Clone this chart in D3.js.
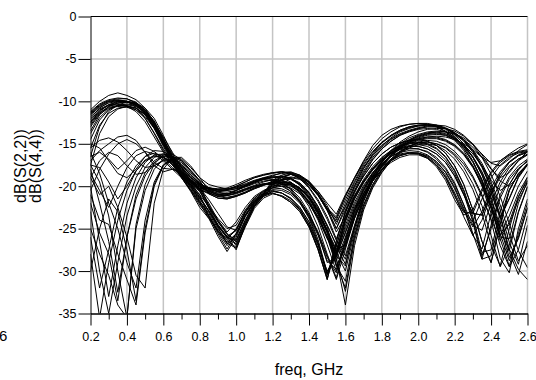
<!DOCTYPE html>
<html>
<head>
<meta charset="utf-8">
<script src="https://cdn.jsdelivr.net/npm/d3@7"></script>
<style>
  body { margin: 0; background: #fff; }
  svg { display: block; font-family: "Liberation Sans", Arial, sans-serif; }
</style>
</head>
<body>
<svg width="536" height="380"></svg>
<script>
// sweep points, GHz
const freq = [0.20,0.25,0.30,0.35,0.40,0.45,0.50,0.55,0.60,0.65,0.70,0.75,0.80,0.85,0.90,0.95,1.00,
  1.05,1.10,1.15,1.20,1.25,1.30,1.35,1.40,1.45,1.50,1.55,1.60,1.65,1.70,1.75,1.80,1.85,1.90,1.95,
  2.00,2.05,2.10,2.15,2.20,2.25,2.30,2.35,2.40,2.45,2.50,2.55,2.60];

const xTicks = [0.2,0.4,0.6,0.8,1.0,1.2,1.4,1.6,1.8,2.0,2.2,2.4,2.6];
const xMinor = [0.3,0.5,0.7,0.9,1.1,1.3,1.5,1.7,1.9,2.1,2.3,2.5];
const yTicks = [0,-5,-10,-15,-20,-25,-30,-35];

// dB(S(2,2)) monte-carlo traces
const s22 = [
  [-11.2,-10.3,-9.8,-9.6,-9.7,-10.2,-11.2,-12.8,-14.9,-17.0,-18.8,-20.2,-21.8,-23.2,-25.0,-26.3,-25.0,-23.0,-21.6,-20.8,-19.6,-19.0,-18.6,-18.8,-19.5,-20.6,-22.0,-23.3,-21.0,-19.0,-17.0,-15.2,-14.0,-13.3,-12.9,-12.7,-12.6,-12.6,-12.8,-13.2,-13.9,-15.0,-16.6,-18.7,-21.6,-25.1,-27.6,-23.1,-20.1],
  [-12.0,-10.8,-10.1,-9.9,-10.0,-10.2,-11.0,-12.3,-14.4,-16.6,-18.5,-19.6,-20.5,-20.6,-21.0,-21.1,-20.8,-20.4,-20.0,-19.7,-19.6,-19.5,-19.8,-20.6,-21.9,-23.6,-25.9,-28.1,-25.4,-22.5,-20.3,-18.5,-17.1,-16.0,-15.1,-14.5,-14.0,-13.7,-13.6,-13.8,-14.3,-15.2,-16.5,-18.3,-20.7,-23.7,-21.4,-18.9,-17.4],
  [-11.0,-10.0,-9.3,-9.0,-9.3,-9.8,-10.8,-12.5,-14.7,-16.9,-18.7,-19.8,-21.0,-23.6,-25.6,-27.4,-25.6,-23.4,-21.8,-20.9,-19.3,-18.7,-18.4,-18.7,-19.4,-20.6,-22.3,-24.5,-22.0,-19.6,-17.7,-16.3,-15.2,-14.4,-13.8,-13.4,-13.1,-12.9,-12.8,-12.9,-13.3,-14.0,-15.1,-16.6,-18.6,-21.2,-24.4,-27.6,-29.6],
  [-13.5,-11.6,-10.6,-10.2,-10.0,-10.2,-10.8,-12.0,-14.0,-16.2,-18.2,-19.5,-20.3,-20.2,-20.4,-20.5,-20.3,-20.0,-19.6,-19.2,-19.0,-18.8,-19.0,-19.8,-21.1,-22.9,-25.2,-27.8,-30.0,-25.4,-21.8,-19.4,-17.6,-16.3,-15.3,-14.6,-14.1,-13.8,-13.6,-13.6,-13.8,-14.3,-15.1,-16.2,-17.3,-17.6,-16.8,-15.8,-15.1],
  [-14.5,-12.2,-11.0,-10.5,-10.3,-10.5,-11.3,-12.8,-14.9,-16.9,-18.4,-19.4,-20.0,-20.4,-20.6,-20.4,-20.0,-19.5,-19.0,-18.7,-18.5,-18.3,-18.4,-18.9,-19.8,-21.1,-22.8,-24.0,-21.6,-19.4,-17.5,-16.0,-14.9,-14.1,-13.5,-13.1,-12.9,-12.8,-12.9,-13.3,-14.1,-15.3,-17.0,-19.3,-22.4,-26.0,-26.2,-22.0,-19.4],
  [-11.5,-10.6,-10.0,-9.8,-10.0,-10.7,-12.0,-13.8,-15.8,-17.5,-19.0,-20.6,-22.5,-23.8,-25.2,-26.4,-27.2,-24.6,-22.4,-21.2,-20.6,-20.8,-21.4,-22.5,-24.2,-26.8,-30.4,-27.0,-23.6,-21.2,-19.4,-18.0,-16.9,-16.1,-15.6,-15.3,-15.3,-15.6,-16.2,-17.2,-18.8,-21.0,-23.2,-23.4,-20.8,-18.6,-17.2,-16.4,-16.0],
  [-12.5,-11.2,-10.4,-10.0,-10.0,-10.4,-11.2,-12.5,-14.2,-16.0,-17.8,-19.3,-20.4,-20.8,-21.2,-21.0,-20.5,-19.9,-19.4,-19.1,-19.0,-18.9,-19.1,-19.7,-20.8,-22.4,-24.8,-28.5,-34.0,-27.0,-22.8,-20.2,-18.4,-17.0,-16.0,-15.3,-14.8,-14.6,-14.7,-15.1,-15.9,-17.1,-18.8,-21.0,-24.0,-28.5,-30.2,-25.0,-21.5],
  [-16.5,-13.0,-11.2,-10.4,-10.1,-10.3,-11.0,-12.4,-14.4,-16.5,-18.3,-19.5,-20.6,-22.6,-24.0,-25.4,-24.2,-22.5,-21.2,-20.5,-20.0,-19.8,-20.0,-20.6,-21.7,-23.3,-25.4,-27.6,-26.8,-23.4,-20.9,-19.0,-17.5,-16.3,-15.4,-14.7,-14.2,-13.9,-13.8,-14.0,-14.6,-15.6,-17.1,-19.2,-22.0,-25.6,-28.8,-26.0,-22.6],
  [-11.8,-10.9,-10.4,-10.3,-10.5,-11.0,-12.0,-13.7,-15.6,-17.2,-18.6,-20.0,-21.7,-23.4,-25.2,-26.6,-25.6,-23.4,-21.9,-21.0,-20.4,-20.5,-21.0,-22.0,-23.6,-25.8,-28.8,-29.8,-26.2,-23.0,-20.8,-19.0,-17.7,-16.8,-16.2,-16.0,-16.1,-16.6,-17.5,-19.0,-21.2,-23.1,-23.2,-20.6,-18.5,-17.2,-16.4,-16.0,-15.8],
  [-12.8,-11.4,-10.6,-10.2,-10.1,-10.4,-11.3,-12.8,-14.9,-16.9,-18.6,-19.9,-21.2,-23.0,-24.8,-26.0,-27.5,-24.6,-22.4,-21.2,-20.8,-21.2,-21.9,-23.0,-24.8,-27.5,-31.0,-26.5,-23.0,-20.6,-18.8,-17.3,-16.2,-15.4,-14.9,-14.6,-14.5,-14.7,-15.2,-16.1,-17.6,-19.8,-22.8,-26.5,-29.0,-24.5,-20.5,-18.5,-17.4],
  [-13.0,-11.5,-10.8,-10.6,-10.7,-11.0,-11.8,-13.2,-15.1,-16.8,-18.4,-19.7,-21.0,-22.4,-23.8,-25.0,-24.6,-22.8,-21.4,-20.6,-20.0,-19.6,-19.6,-20.2,-21.2,-22.7,-24.6,-26.9,-28.6,-24.8,-21.6,-19.3,-17.6,-16.4,-15.5,-14.8,-14.3,-14.0,-13.9,-14.0,-14.4,-15.1,-16.2,-17.6,-19.3,-20.5,-19.8,-18.1,-16.9],
  [-11.3,-10.4,-9.9,-9.7,-9.7,-10.1,-11.0,-12.6,-14.8,-16.9,-18.8,-20.4,-22.0,-23.8,-25.9,-27.7,-26.0,-23.6,-22.0,-21.0,-19.5,-18.9,-18.6,-18.8,-19.5,-20.8,-22.6,-25.0,-22.8,-20.2,-18.2,-16.6,-15.4,-14.5,-13.9,-13.5,-13.2,-13.0,-13.0,-13.2,-13.7,-14.5,-15.8,-17.6,-20.2,-23.6,-27.8,-30.4,-26.5],
  [-15.5,-12.8,-11.4,-10.8,-10.6,-10.8,-11.5,-12.8,-14.5,-16.3,-17.9,-19.2,-20.1,-20.3,-20.6,-20.7,-20.5,-20.1,-19.7,-19.4,-19.3,-19.3,-19.6,-20.3,-21.5,-23.1,-25.2,-27.4,-27.0,-23.8,-21.2,-19.2,-17.7,-16.5,-15.6,-15.0,-14.6,-14.4,-14.4,-14.7,-15.3,-16.3,-17.8,-19.8,-22.6,-25.8,-24.5,-21.6,-19.6],
  [-12.2,-11.0,-10.5,-10.4,-10.6,-11.2,-12.4,-14.2,-16.0,-17.4,-18.6,-19.8,-21.3,-22.9,-24.5,-25.9,-26.8,-24.4,-22.3,-21.1,-20.2,-19.8,-19.8,-20.3,-21.3,-22.9,-25.2,-28.6,-32.4,-26.4,-22.5,-20.0,-18.3,-17.0,-16.1,-15.5,-15.1,-15.0,-15.2,-15.8,-16.8,-18.3,-20.4,-23.2,-26.9,-29.4,-25.0,-21.3,-19.0],
  [-11.6,-10.7,-10.2,-10.0,-10.0,-10.4,-11.4,-13.0,-15.1,-17.1,-19.0,-20.5,-22.2,-23.6,-25.3,-26.7,-27.3,-24.8,-22.6,-21.4,-20.9,-21.1,-21.7,-22.8,-24.6,-27.3,-30.8,-27.5,-24.0,-21.5,-19.6,-18.1,-17.0,-16.2,-15.7,-15.5,-15.6,-16.0,-16.8,-18.0,-19.8,-22.2,-24.6,-25.2,-22.0,-19.5,-17.8,-16.8,-16.3],
  [-13.8,-11.9,-10.9,-10.5,-10.4,-10.6,-11.3,-12.7,-14.7,-16.7,-18.4,-19.5,-20.4,-20.9,-21.4,-21.5,-21.2,-20.8,-20.3,-19.9,-19.4,-18.9,-18.6,-18.9,-19.6,-20.9,-22.6,-24.2,-22.4,-20.0,-17.9,-16.2,-14.9,-14.0,-13.4,-13.0,-12.8,-12.7,-12.8,-13.1,-13.7,-14.6,-15.9,-17.6,-19.8,-22.8,-26.6,-29.2,-24.6],
  [-12.4,-11.1,-10.4,-10.1,-10.0,-10.3,-11.1,-12.6,-14.7,-16.7,-18.6,-20.0,-21.4,-23.0,-24.7,-25.9,-25.2,-23.1,-21.7,-20.9,-20.5,-20.8,-21.5,-22.7,-24.5,-27.0,-30.0,-28.2,-24.2,-21.5,-19.5,-17.9,-16.7,-15.8,-15.2,-14.9,-14.8,-15.0,-15.5,-16.5,-18.1,-20.4,-23.6,-27.8,-27.5,-23.0,-19.8,-18.0,-17.0],
  [-17.5,-13.8,-11.8,-10.9,-10.6,-10.8,-11.6,-13.0,-14.8,-16.6,-18.1,-19.4,-20.3,-20.5,-20.8,-20.9,-20.7,-20.3,-20.0,-19.8,-19.8,-20.0,-20.6,-21.7,-23.3,-25.4,-28.2,-31.0,-27.4,-23.8,-21.3,-19.4,-18.0,-17.0,-16.4,-16.1,-16.1,-16.4,-17.1,-18.3,-20.1,-22.6,-25.8,-27.4,-23.2,-20.0,-18.2,-17.0,-16.3],
  [-11.4,-10.5,-10.0,-9.9,-10.0,-10.5,-11.5,-13.2,-15.3,-17.2,-19.0,-20.4,-21.9,-23.5,-25.4,-27.0,-25.8,-23.5,-21.9,-20.9,-19.8,-19.2,-19.1,-19.6,-20.7,-22.4,-24.6,-27.0,-29.2,-24.8,-21.3,-18.9,-17.1,-15.8,-14.8,-14.1,-13.6,-13.3,-13.2,-13.2,-13.5,-14.1,-15.0,-16.3,-17.9,-19.4,-20.0,-18.8,-17.3],
  [-12.6,-11.3,-10.7,-10.5,-10.5,-10.8,-11.6,-13.1,-15.1,-16.9,-18.8,-20.1,-21.5,-22.9,-24.6,-26.1,-26.4,-24.0,-22.1,-20.9,-19.9,-19.3,-19.0,-19.2,-19.9,-21.1,-22.8,-25.4,-23.6,-20.8,-18.6,-16.9,-15.6,-14.7,-14.0,-13.6,-13.3,-13.2,-13.3,-13.6,-14.2,-15.2,-16.6,-18.6,-21.3,-24.8,-28.4,-26.2,-22.5]
];

// dB(S(4,4)) monte-carlo traces
const s44 = [
  [-20.0,-26.5,-33.0,-27.0,-22.0,-19.0,-17.2,-16.3,-16.2,-16.8,-18.0,-19.3,-20.0,-20.6,-21.0,-21.1,-20.8,-20.4,-20.0,-19.7,-19.6,-19.7,-20.3,-21.4,-23.1,-25.6,-29.0,-28.4,-24.6,-21.9,-19.9,-18.4,-17.3,-16.5,-16.0,-15.8,-15.9,-16.3,-17.1,-18.4,-20.3,-22.8,-24.8,-23.0,-20.2,-18.3,-17.1,-16.3,-15.9],
  [-23.0,-30.0,-35.0,-29.0,-23.5,-20.0,-17.8,-16.6,-16.2,-16.6,-17.7,-19.0,-19.8,-20.2,-20.4,-20.5,-20.3,-20.0,-19.6,-19.2,-18.9,-18.8,-19.1,-19.9,-21.3,-23.3,-26.0,-29.4,-27.2,-23.6,-21.2,-19.3,-18.0,-17.0,-16.4,-16.1,-16.1,-16.5,-17.3,-18.7,-20.8,-23.0,-24.2,-21.5,-19.0,-17.5,-16.6,-16.1,-15.9],
  [-18.0,-22.0,-26.5,-32.5,-26.0,-21.5,-18.8,-17.2,-16.5,-16.6,-17.4,-18.6,-19.8,-22.4,-24.6,-26.1,-25.2,-23.1,-21.6,-20.7,-20.2,-20.0,-20.2,-20.9,-22.1,-23.8,-26.0,-28.3,-25.5,-22.6,-20.4,-18.6,-17.2,-16.1,-15.2,-14.6,-14.1,-13.8,-13.7,-13.9,-14.4,-15.3,-16.6,-18.4,-20.8,-23.8,-21.5,-19.0,-17.5],
  [-25.0,-28.0,-30.5,-34.0,-35.5,-25.0,-20.5,-18.0,-16.8,-16.5,-17.0,-18.2,-19.4,-20.9,-21.4,-21.5,-21.2,-20.8,-20.3,-19.9,-19.6,-19.2,-19.2,-19.8,-20.9,-22.6,-25.2,-29.2,-32.0,-26.0,-22.2,-19.8,-18.1,-16.8,-15.9,-15.3,-14.9,-14.8,-15.0,-15.5,-16.4,-17.8,-19.7,-22.3,-25.8,-29.5,-27.0,-23.0,-20.0],
  [-16.0,-18.5,-22.0,-25.0,-29.0,-32.0,-24.0,-19.5,-17.5,-16.8,-17.2,-18.4,-19.6,-20.4,-20.6,-20.4,-20.0,-19.5,-19.0,-18.7,-18.4,-18.3,-18.5,-19.0,-19.8,-21.0,-22.6,-23.8,-21.2,-19.0,-17.1,-15.6,-14.4,-13.6,-13.0,-12.7,-12.6,-12.7,-13.0,-13.6,-14.5,-15.8,-17.6,-20.0,-23.2,-27.0,-29.5,-27.5,-23.5],
  [-21.0,-24.0,-24.5,-28.0,-31.0,-34.0,-25.5,-20.0,-17.6,-16.7,-17.0,-18.2,-19.4,-20.8,-21.2,-21.0,-20.5,-19.9,-19.4,-19.1,-19.2,-19.6,-20.4,-21.7,-23.6,-26.3,-30.2,-27.8,-23.8,-21.1,-19.2,-17.7,-16.6,-15.8,-15.3,-15.0,-14.9,-15.1,-15.6,-16.6,-18.2,-20.6,-24.0,-28.2,-25.0,-21.4,-19.2,-17.9,-17.1],
  [-28.0,-35.5,-29.0,-24.0,-20.5,-18.2,-16.9,-16.4,-16.6,-17.5,-18.8,-19.8,-20.3,-22.0,-24.0,-25.6,-26.6,-24.2,-22.2,-21.0,-20.1,-19.6,-19.6,-20.2,-21.4,-23.1,-25.4,-28.2,-29.4,-25.0,-21.6,-19.3,-17.6,-16.3,-15.4,-14.8,-14.4,-14.2,-14.1,-14.2,-14.5,-15.0,-15.7,-16.6,-17.2,-17.0,-16.2,-15.5,-15.0],
  [-30.0,-25.0,-21.5,-23.0,-27.5,-33.5,-25.0,-19.8,-17.5,-16.6,-16.8,-17.8,-19.0,-19.8,-20.1,-20.3,-20.2,-19.9,-19.5,-19.1,-18.8,-18.4,-18.3,-18.7,-19.6,-21.0,-22.9,-25.0,-22.4,-19.9,-17.9,-16.4,-15.2,-14.3,-13.6,-13.2,-12.9,-12.8,-12.9,-13.2,-13.8,-14.7,-16.0,-17.8,-20.2,-23.4,-27.4,-29.8,-31.0],
  [-17.5,-19.5,-23.5,-30.0,-35.5,-24.5,-19.8,-17.4,-16.3,-16.2,-16.9,-18.1,-19.3,-20.2,-20.7,-20.9,-20.7,-20.3,-19.9,-19.5,-19.2,-19.3,-19.8,-20.8,-22.4,-24.8,-28.0,-30.8,-26.4,-22.8,-20.4,-18.7,-17.4,-16.5,-15.9,-15.6,-15.6,-15.9,-16.6,-17.8,-19.6,-22.2,-25.6,-28.6,-24.6,-21.0,-18.9,-17.6,-16.8],
  [-26.0,-32.0,-27.5,-22.5,-19.5,-17.6,-16.5,-16.1,-16.5,-17.4,-18.6,-19.6,-20.2,-21.6,-23.2,-24.8,-25.2,-23.0,-21.4,-20.6,-20.2,-20.3,-20.8,-21.8,-23.4,-25.6,-28.4,-30.2,-26.6,-23.2,-20.9,-19.1,-17.8,-16.9,-16.3,-16.1,-16.2,-16.7,-17.7,-19.3,-21.6,-23.4,-22.8,-20.3,-18.3,-17.0,-16.3,-15.9,-15.7],
  [-19.0,-21.0,-20.0,-22.5,-26.0,-30.5,-32.0,-22.0,-18.0,-16.6,-16.6,-17.6,-19.0,-20.5,-21.1,-21.3,-21.1,-20.7,-20.2,-19.8,-19.5,-19.4,-19.7,-20.5,-21.8,-23.6,-26.0,-28.8,-26.0,-22.9,-20.6,-18.8,-17.4,-16.3,-15.5,-14.9,-14.5,-14.3,-14.3,-14.6,-15.2,-16.2,-17.7,-19.8,-22.6,-26.2,-29.4,-25.6,-22.0],
  [-22.0,-25.5,-28.0,-33.5,-26.0,-21.0,-18.4,-17.0,-16.4,-16.6,-17.5,-18.7,-19.7,-20.2,-20.4,-20.2,-19.8,-19.3,-18.9,-18.6,-18.4,-18.3,-18.5,-19.1,-20.2,-21.8,-23.9,-26.4,-28.2,-24.6,-21.2,-18.9,-17.2,-15.9,-15.0,-14.3,-13.9,-13.6,-13.5,-13.6,-13.9,-14.5,-15.4,-16.6,-18.0,-19.0,-18.4,-17.0,-15.9],
  [-15.5,-14.6,-14.3,-14.8,-15.8,-17.0,-17.8,-17.6,-17.0,-17.0,-17.8,-19.0,-19.9,-20.6,-21.0,-20.9,-20.5,-20.0,-19.5,-19.2,-19.4,-19.8,-20.6,-21.9,-23.8,-26.6,-30.4,-28.0,-24.0,-21.3,-19.4,-17.9,-16.8,-16.0,-15.5,-15.2,-15.1,-15.3,-15.9,-16.9,-18.5,-20.9,-24.2,-28.6,-28.2,-23.8,-20.4,-18.6,-17.5],
  [-17.0,-15.8,-15.0,-14.2,-14.0,-14.6,-16.0,-17.6,-18.3,-18.0,-18.3,-19.2,-20.4,-22.6,-24.8,-26.8,-25.6,-23.4,-21.8,-20.9,-19.8,-19.2,-18.9,-19.1,-19.8,-21.0,-22.6,-23.6,-21.2,-19.1,-17.3,-15.9,-14.8,-14.0,-13.4,-13.0,-12.8,-12.8,-13.0,-13.5,-14.3,-15.5,-17.2,-19.4,-22.4,-25.8,-23.5,-20.8,-18.9],
  [-19.0,-17.0,-16.0,-16.4,-17.6,-18.6,-18.4,-17.6,-16.9,-16.8,-17.5,-18.7,-19.7,-20.4,-20.9,-21.1,-20.9,-20.5,-20.1,-19.8,-19.7,-19.5,-19.6,-20.2,-21.3,-23.0,-25.6,-29.4,-31.2,-25.8,-22.2,-19.8,-18.1,-16.8,-15.9,-15.3,-14.9,-14.8,-15.0,-15.4,-16.2,-17.4,-19.0,-21.2,-23.9,-26.4,-24.2,-21.2,-19.3],
  [-15.0,-15.5,-17.0,-18.5,-19.0,-18.0,-16.5,-15.8,-15.9,-16.6,-17.7,-18.9,-19.8,-20.2,-20.3,-20.3,-20.1,-19.8,-19.4,-19.0,-18.7,-18.5,-18.6,-19.1,-20.1,-21.6,-23.6,-26.2,-23.2,-20.5,-18.4,-16.8,-15.6,-14.7,-14.0,-13.5,-13.2,-13.0,-13.0,-13.2,-13.7,-14.5,-15.7,-17.3,-19.5,-22.2,-25.6,-28.8,-27.0],
  [-20.5,-18.0,-16.2,-15.0,-14.5,-15.0,-16.0,-17.2,-17.9,-18.0,-18.5,-19.3,-20.3,-22.2,-24.2,-25.6,-27.0,-24.4,-22.3,-21.1,-20.6,-20.8,-21.4,-22.5,-24.2,-26.8,-30.4,-27.0,-23.6,-21.2,-19.4,-18.0,-16.9,-16.1,-15.6,-15.3,-15.3,-15.6,-16.2,-17.2,-18.8,-21.0,-23.2,-23.4,-20.8,-18.6,-17.2,-16.4,-16.0],
  [-17.5,-17.8,-19.5,-21.5,-20.0,-18.2,-17.0,-16.5,-16.6,-17.2,-18.2,-19.2,-19.9,-20.3,-20.5,-20.4,-20.1,-19.7,-19.3,-19.0,-18.9,-19.0,-19.5,-20.4,-21.9,-24.0,-26.9,-30.0,-27.0,-23.6,-21.2,-19.4,-18.1,-17.2,-16.6,-16.3,-16.3,-16.7,-17.5,-18.9,-21.0,-23.6,-25.8,-24.0,-21.0,-18.9,-17.6,-16.8,-16.2],
  [-16.5,-16.0,-16.8,-18.0,-17.0,-15.8,-15.4,-15.9,-16.8,-17.8,-18.8,-19.6,-20.1,-20.7,-21.2,-21.4,-21.1,-20.7,-20.2,-19.8,-19.6,-19.6,-19.9,-20.7,-22.0,-23.8,-26.2,-27.8,-25.0,-22.2,-20.1,-18.4,-17.1,-16.1,-15.3,-14.8,-14.4,-14.2,-14.2,-14.5,-15.1,-16.1,-17.6,-19.6,-22.3,-25.0,-22.6,-20.0,-18.2],
  [-18.5,-20.5,-22.5,-20.0,-17.8,-16.4,-15.9,-16.2,-17.0,-18.0,-19.0,-19.8,-20.6,-22.4,-24.2,-25.7,-26.3,-24.0,-22.0,-20.9,-20.8,-21.2,-21.9,-23.0,-24.8,-27.5,-31.0,-26.5,-23.0,-20.6,-18.8,-17.3,-16.2,-15.4,-14.9,-14.6,-14.5,-14.7,-15.2,-16.1,-17.6,-19.8,-22.8,-26.5,-29.0,-24.5,-20.5,-18.5,-17.4]
];

const svg = d3.select("svg");
const plot = { left: 90.5, right: 527.5, top: 16.5, bottom: 313.5 };

const x = d3.scaleLinear().domain([0.2, 2.6]).range([plot.left, plot.right]);
const y = d3.scaleLinear().domain([0, -35]).range([plot.top, plot.bottom]);

// grid
const grid = svg.append("g").attr("stroke", "#c4c4c4").attr("stroke-width", 1.5);
grid.selectAll("line.gx")
  .data(xTicks.slice(1))
  .join("line")
  .attr("x1", (d) => x(d)).attr("x2", (d) => x(d))
  .attr("y1", plot.top).attr("y2", plot.bottom);
grid.selectAll("line.gy")
  .data(yTicks.slice(1, -1))
  .join("line")
  .attr("x1", plot.left).attr("x2", plot.right)
  .attr("y1", (d) => y(d)).attr("y2", (d) => y(d));

// traces
svg.append("clipPath").attr("id", "clip")
  .append("rect")
  .attr("x", plot.left).attr("y", plot.top)
  .attr("width", plot.right - plot.left).attr("height", plot.bottom - plot.top);

const line = d3.line()
  .x((d, i) => x(freq[i]))
  .y((d) => y(d));

svg.append("g")
  .attr("clip-path", "url(#clip)")
  .attr("fill", "none")
  .attr("stroke", "#000")
  .attr("stroke-width", 1)
  .selectAll("path")
  .data(s22.concat(s44))
  .join("path")
  .attr("d", line);

// top border at 0 dB
svg.append("line")
  .attr("x1", plot.left).attr("x2", plot.right)
  .attr("y1", y(0)).attr("y2", y(0))
  .attr("stroke", "#000");

// axes (plain hyphen minus, as in the original)
const xAxis = d3.axisBottom(x).tickValues(xTicks).tickSize(12).tickPadding(7)
  .tickSizeOuter(0).tickFormat(d3.format(".1f"));
const xAxisMinor = d3.axisBottom(x).tickValues(xMinor).tickSize(6)
  .tickSizeOuter(0).tickFormat("");
const yAxis = d3.axisLeft(y).tickValues(yTicks).tickSize(12).tickPadding(2)
  .tickSizeOuter(0).tickFormat((d) => `${d}`);

svg.append("g").attr("transform", `translate(0,${plot.bottom})`).call(xAxis);
svg.append("g").attr("transform", `translate(0,${plot.bottom})`).call(xAxisMinor);
svg.append("g").attr("transform", `translate(${plot.left},0)`).call(yAxis);

svg.selectAll(".tick text")
  .attr("font-family", "'Liberation Sans', Arial, sans-serif")
  .attr("font-size", 12.5)
  .attr("fill", "#000");
svg.selectAll(".domain, .tick line").attr("stroke", "#000");

// axis titles
svg.append("text")
  .attr("x", 309).attr("y", 375)
  .attr("text-anchor", "middle")
  .attr("font-size", 16)
  .text("freq, GHz");

const yTitle = svg.append("text")
  .attr("transform", "translate(26,166) rotate(-90)")
  .attr("text-anchor", "middle")
  .attr("font-size", 16);
yTitle.append("tspan").attr("x", 0).attr("dy", 0).text("dB(S(2,2))");
yTitle.append("tspan").attr("x", 0).attr("dy", 15).text("dB(S(4,4))");

// clipped marker label at the left edge
svg.append("text")
  .attr("x", -1).attr("y", 341)
  .attr("font-size", 15)
  .text("6");
</script>
</body>
</html>
